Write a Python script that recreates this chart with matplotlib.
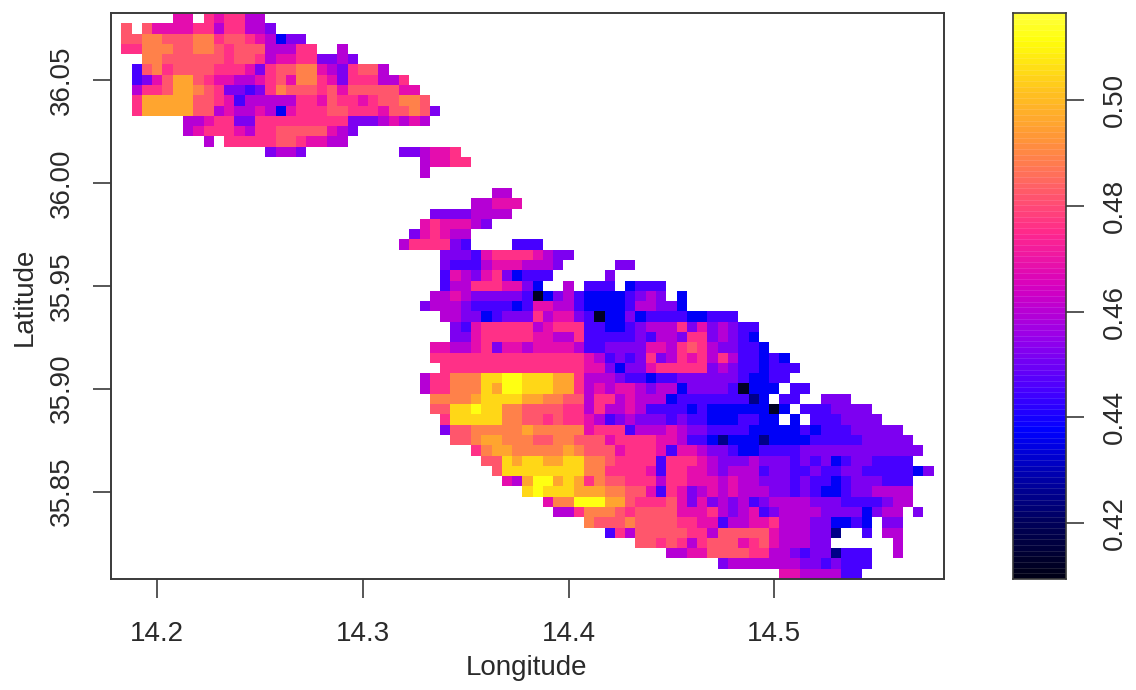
import numpy as np
import matplotlib
matplotlib.use("Agg")
import matplotlib.pyplot as plt
from matplotlib.colors import LinearSegmentedColormap

plt.rcParams['font.family'] = ['Liberation Sans', 'DejaVu Sans']

W, H = 1136, 690

# cell grid
lon_start = 14.1775
lat_top = 36.0825
cell = 0.005
n_cols = 81
n_rows = 55

# one letter per read colour level
level_values = {'0': 0.412, '1': 0.425, '2': 0.437, '3': 0.445, '4': 0.452,
                '5': 0.460, '6': 0.468, '7': 0.476, '8': 0.482, '9': 0.489,
                'a': 0.496, 'b': 0.505, 'c': 0.512}

# first column of each row, from the top
row_starts = [0] * 17 + [37, 35, 31, 30, 29, 28, 32, 32, 32, 32, 31, 30, 32, 33, 33, 31, 31, 32,
                         30, 30, 31, 31, 32, 32, 33, 35, 36, 37, 38, 40, 42, 43, 46, 48, 51, 54, 59, 65]

row_codes = [
    "......66.767755",
    ".8.8666677577554",
    ".889988899788765244",
    ".7799988998788855577..5",
    "...998888887887566774454",
    "..3897888877764788996547885",
    "..3468aa876655678699764777557",
    "..5778aa9874434798887868888866",
    "..7aaaaa88763555557768776788998",
    "..7aaaaa885655652677788777688984",
    ".......556774477777777744456565",
    ".......56777657788888654",
    ".........5.777778876655",
    "...............4554.........445667",
    "..............................56677",
    "..............................5",
    "",
    "55",
    "55666",
    "44445555",
    "6766654",
    "467655",
    "5777743....333",
    "4443677776544",
    "433356665554.....44",
    "36546742333.....4",
    "3557776642..5.333.2333",
    "55654444430245322223454.2",
    "45554333323665532222355442",
    "55442344475664302242333322333",
    "436777775677733223455574645433",
    "446777776655733333435547745432",
    "665567466566665334444665787544332",
    "77777777777777765343474576757533232",
    "77777777777777664244677777454332333",
    "577999bbccbbbaa755543323344444432233",
    "577999baccbbbaa75656654552444430222.33",
    "9999abbbbaa9988577565552333333312.33..444",
    "88bbcbb9988887757556533332322222202.3334444",
    "7bbbbb998878776534544434332223322.2.3334444",
    "48899999a999996777355565443333222223233344444",
    "889aa9998899888677776653321222122223333344444",
    "79aa99999a9888677763665443223333444444444444",
    "88babbaabb99877773777654445444343423443333",
    "8bbbbbbbb9977776377665455534433433443333324",
    "65accaba79887775776665655444343323444333",
    "bcbbbaaa998863764565655544343223445555",
    "699cccaa8777864645453455554443333455",
    "5579998788886667545634555544442455.4",
    "9888988887766355667555442232.44",
    "37588888775888886555441..3.55",
    "8878757888678655544......5",
    "55668888775543441333..5",
    "455555554434333",
    "66555533",
]

lon_ticks = [14.2, 14.3, 14.4, 14.5]
lat_ticks = [35.85, 35.90, 35.95, 36.00, 36.05]
bar_ticks = [0.42, 0.44, 0.46, 0.48, 0.50]
bar_min, bar_max = 0.4094, 0.5165

# colours along the legend strip
stop_values = [0.4094, 0.42, 0.4375, 0.445, 0.455, 0.465, 0.475, 0.485, 0.493, 0.502, 0.5115, 0.5165]
stop_colors = ['#000014', '#00005a', '#0000ff', '#4600ff', '#9600eb', '#d700be',
               '#ff288c', '#ff695f', '#ff9637', '#ffc31e', '#ffff0a', '#ffff3c']

stops = [(v - bar_min) / (bar_max - bar_min) for v in stop_values]
cmap = LinearSegmentedColormap.from_list('malta', list(zip(stops, stop_colors)), N=256)

grid = np.full((n_rows, n_cols), np.nan)
for r, (start, codes) in enumerate(zip(row_starts, row_codes)):
    for i, ch in enumerate(codes):
        if ch != '.':
            grid[r, start + i] = level_values[ch]

lon_edges = lon_start + cell * np.arange(n_cols + 1)
lat_edges = lat_top - cell * np.arange(n_rows + 1)

fig = plt.figure(figsize=(W / 100, H / 100), dpi=100)
text_col = '#2a2a2a'
line_col = '#3a3a3a'


def box(x0, y0, x1, y1):
    return [x0 / W, 1 - y1 / H, (x1 - x0) / W, (y1 - y0) / H]


ax = fig.add_axes(box(111, 13, 944, 579))
ax.pcolormesh(lon_edges, lat_edges, np.ma.masked_invalid(grid), cmap=cmap, vmin=bar_min, vmax=bar_max)
ax.set_xlim(lon_edges[0], lon_edges[-1])
ax.set_ylim(lat_edges[-1], lat_edges[0])
ax.set_xticks(lon_ticks)
ax.set_xticklabels([f"{v:.1f}" for v in lon_ticks])
ax.set_yticks(lat_ticks)
ax.set_yticklabels([f"{v:.2f}" for v in lat_ticks], rotation=90, va='center')
ax.tick_params(axis='x', length=13.5, width=1.2, color=line_col, labelsize=20, labelcolor=text_col, pad=17)
ax.tick_params(axis='y', length=13, width=1.2, color=line_col, labelsize=20, labelcolor=text_col, pad=13)
for s in ax.spines.values():
    s.set_linewidth(1.4)
    s.set_color(line_col)
fig.text(527 / W, 1 - 668 / H, "Longitude", ha='center', va='center', fontsize=20, color=text_col)
fig.text(25 / W, 1 - 297 / H, "Latitude", ha='center', va='center', rotation=90, fontsize=20, color=text_col)

# legend strip
bar_levels = np.linspace(bar_min, bar_max, 101)
cax = fig.add_axes(box(1013, 13, 1066, 579))
cax.pcolormesh([0, 1], bar_levels, ((bar_levels[:-1] + bar_levels[1:]) / 2).reshape(-1, 1),
               cmap=cmap, vmin=bar_min, vmax=bar_max)
cax.hlines(bar_levels[1:-1], 0, 1, color='white', alpha=0.14, linewidth=0.6)
cax.set_xlim(0, 1)
cax.set_ylim(bar_min, bar_max)
cax.set_xticks([])
cax.yaxis.tick_right()
cax.set_yticks(bar_ticks)
cax.set_yticklabels([f"{v:.2f}" for v in bar_ticks], rotation=90, va='center')
cax.tick_params(axis='y', length=13, width=1.2, color=line_col, labelsize=20, labelcolor=text_col, pad=12.5)
for s in cax.spines.values():
    s.set_linewidth(1.2)
    s.set_color(line_col)

fig.savefig('out.png', dpi=100)
